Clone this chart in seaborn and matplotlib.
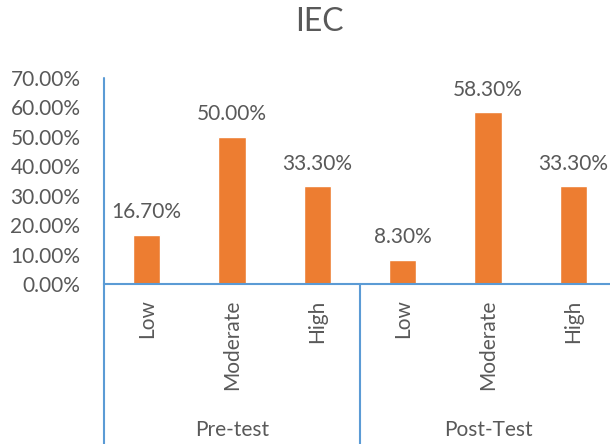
import pandas as pd
import seaborn as sns
import matplotlib.pyplot as plt


GROUPS = ["Pre-test", "Post-Test"]
LEVELS = ["Low", "Moderate", "High"]
PRE_VALUES = [16.7, 50.0, 33.3]
POST_VALUES = [8.3, 58.3, 33.3]
Y_TICKS = [0, 10, 20, 30, 40, 50, 60, 70]

BAR_COLOR = "#ED7D31"
AXIS_COLOR = "#5B9BD5"
TEXT_COLOR = "#595959"


def build_frame() -> pd.DataFrame:
    rows = []
    for group, values in zip(GROUPS, [PRE_VALUES, POST_VALUES]):
        for level, value in zip(LEVELS, values):
            rows.append({"slot": f"{group} {level}", "group": group, "level": level, "value": value})
    return pd.DataFrame(rows)


def main() -> None:
    sns.set_theme(style="white")
    plt.rcParams["font.family"] = ["Lato", "DejaVu Sans"]

    df = build_frame()

    fig = plt.figure(figsize=(6.1, 4.44), dpi=100)
    ax = fig.add_axes([104 / 610, 160 / 444, 512 / 610, 206 / 444])

    sns.barplot(data=df, x="slot", y="value", order=list(df["slot"]),
                color=BAR_COLOR, width=0.32, saturation=1, ax=ax)

    ax.set_xlim(-0.5, 5.5)
    ax.set_ylim(0, 70)
    ax.set_yticks(Y_TICKS)
    ax.set_yticklabels([f"{t:.2f}%" for t in Y_TICKS], color=TEXT_COLOR, fontsize=15)
    ax.set_xticks(range(len(df)))
    ax.set_xticklabels(list(df["level"]), rotation=90, color=TEXT_COLOR, fontsize=15)
    ax.tick_params(axis="y", length=0, pad=17)
    ax.tick_params(axis="x", length=0, pad=11)
    ax.set_xlabel("")
    ax.set_ylabel("")

    for side in ["top", "right", "left"]:
        ax.spines[side].set_visible(False)
    ax.spines["bottom"].set_color(AXIS_COLOR)
    ax.spines["bottom"].set_linewidth(1.5)

    # data labels above bars
    for i, value in enumerate(df["value"]):
        ax.annotate(f"{value:.2f}%", (i, value), xytext=(0, 9), textcoords="offset points",
                    ha="center", va="bottom", color=TEXT_COLOR, fontsize=15)

    # multi-level category axis lines and group labels
    trans = ax.get_xaxis_transform()
    ax.plot([-0.5, -0.5], [1.0, -0.78], transform=trans, color=AXIS_COLOR, lw=1.5, clip_on=False)
    ax.plot([2.5, 2.5], [0.0, -0.78], transform=trans, color=AXIS_COLOR, lw=1.5, clip_on=False)
    for k, group in enumerate(GROUPS):
        ax.text(1 + 3 * k, -0.709, group, transform=trans, ha="center", va="center",
                color=TEXT_COLOR, fontsize=15)

    fig.text(319 / 610, 1 - 22 / 444, "IEC", ha="center", va="center", color=TEXT_COLOR, fontsize=23)

    fig.savefig("out.png", dpi=100)
    plt.close(fig)


if __name__ == "__main__":
    main()
